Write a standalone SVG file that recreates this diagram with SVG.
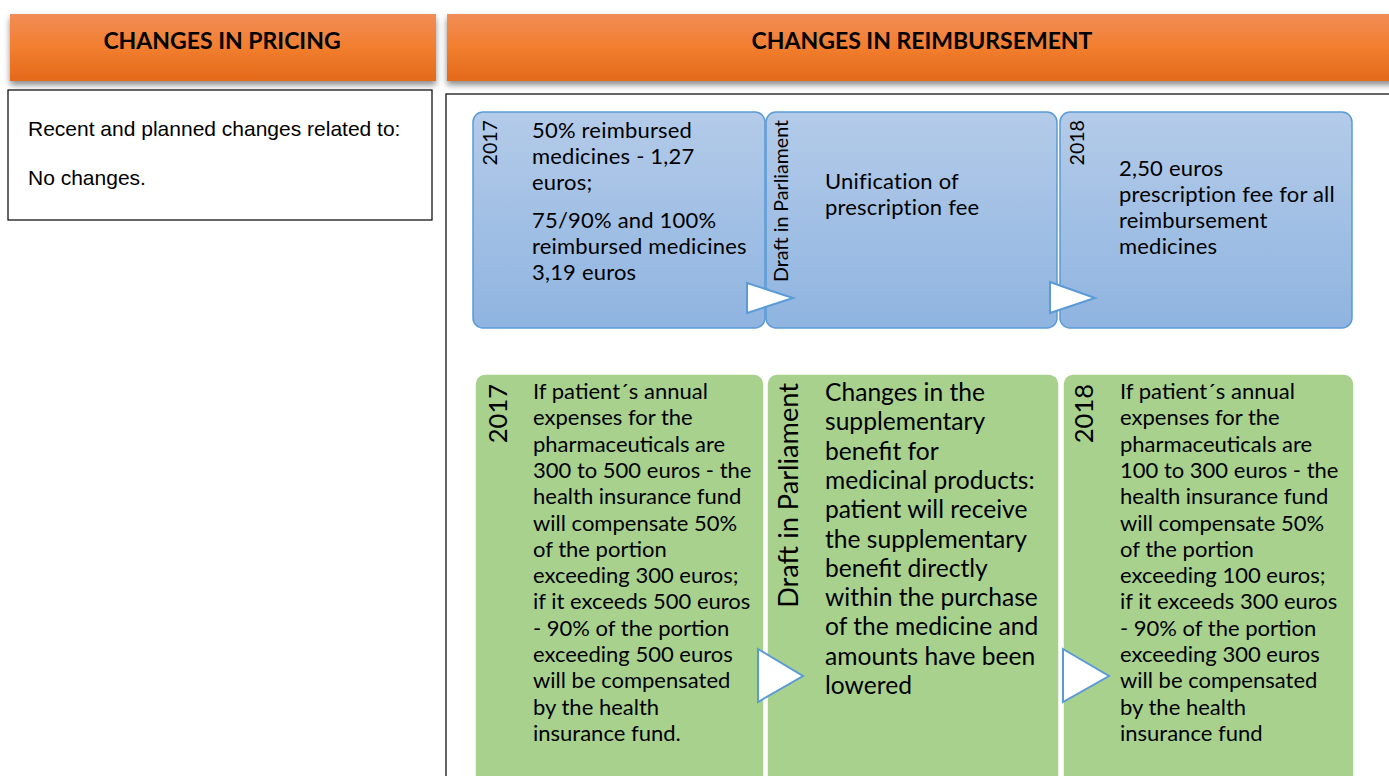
<svg xmlns="http://www.w3.org/2000/svg" width="1389" height="776" viewBox="0 0 1389 776">
<defs>
<linearGradient id="og" x1="0" y1="0" x2="0" y2="1">
<stop offset="0" stop-color="#f18d56"/>
<stop offset="0.5" stop-color="#f27e2f"/>
<stop offset="1" stop-color="#e3691b"/>
</linearGradient>
<linearGradient id="bg" x1="0" y1="0" x2="0" y2="1">
<stop offset="0" stop-color="#b4cbe9"/>
<stop offset="1" stop-color="#8fb4e0"/>
</linearGradient>
<filter id="sh" x="-5%" y="-20%" width="110%" height="160%">
<feDropShadow dx="0" dy="4" stdDeviation="3" flood-color="#000" flood-opacity="0.45"/>
</filter>
<style>
.hdr{font-family:Lato,"Open Sans",sans-serif;font-weight:bold;font-size:23px;fill:#000;text-anchor:middle}
.arial{font-family:"Liberation Sans",Arial,sans-serif;font-size:21px;fill:#000}
.bt{font-family:Lato,"Open Sans",sans-serif;font-size:22px;letter-spacing:0.2px;fill:#000}
.gt{font-family:Lato,"Open Sans",sans-serif;font-size:22px;fill:#000}
.gt2{font-family:Lato,"Open Sans",sans-serif;font-size:24.6px;fill:#000}
.vs{font-family:Lato,"Open Sans",sans-serif;font-size:19.6px;fill:#000;text-anchor:end}
.vl{font-family:Lato,"Open Sans",sans-serif;font-size:27.2px;fill:#000;text-anchor:end}
.vy{font-family:Lato,"Open Sans",sans-serif;font-size:25.5px;fill:#000;text-anchor:end}
.blue{fill:url(#bg);stroke:#5b9bd5;stroke-width:1.5}
.green{fill:#a9d18e;stroke:#ffffff;stroke-width:1.5}
.arr{fill:#ffffff;stroke:#5b9bd5;stroke-width:2;stroke-linejoin:miter}
.frame{fill:#ffffff;stroke:#000;stroke-width:1.2}
</style>
</defs>
<rect width="1389" height="776" fill="#ffffff"/>

<g id="header-pricing">
<rect x="10" y="14" width="426" height="67" fill="url(#og)" filter="url(#sh)"/>
<text class="hdr" x="222" y="49">CHANGES IN PRICING</text>
</g>
<g id="header-reimbursement">
<rect x="447" y="14" width="960" height="67" fill="url(#og)" filter="url(#sh)"/>
<text class="hdr" x="922" y="49">CHANGES IN REIMBURSEMENT</text>
</g>

<g id="pricing-box">
<rect class="frame" x="8" y="90" width="424" height="130"/>
<text class="arial" x="28" y="136">Recent and planned changes related to:</text>
<text class="arial" x="28" y="185">No changes.</text>
</g>

<g id="reimbursement-frame">
<rect class="frame" x="446" y="94" width="960" height="700"/>
</g>

<g id="blue-2017">
<rect class="blue" x="473" y="112" width="292" height="216" rx="10"/>
<text class="vs" transform="translate(497,120) rotate(-90)">2017</text>
<text class="bt"><tspan x="532" y="138">50% reimbursed</tspan><tspan x="532" y="164">medicines - 1,27</tspan><tspan x="532" y="190">euros;</tspan><tspan x="532" y="228">75/90% and 100%</tspan><tspan x="532" y="254">reimbursed medicines</tspan><tspan x="532" y="280">3,19 euros</tspan></text>
</g>
<g id="blue-draft">
<rect class="blue" x="766" y="112" width="291" height="216" rx="10"/>
<text class="vs" transform="translate(788,120) rotate(-90)">Draft in Parliament</text>
<text class="bt"><tspan x="825" y="189">Unification of</tspan><tspan x="825" y="215">prescription fee</tspan></text>
</g>
<g id="blue-2018">
<rect class="blue" x="1060" y="112" width="292" height="216" rx="10"/>
<text class="vs" transform="translate(1084,120) rotate(-90)">2018</text>
<text class="bt"><tspan x="1119" y="176">2,50 euros</tspan><tspan x="1119" y="202">prescription fee for all</tspan><tspan x="1119" y="228">reimbursement</tspan><tspan x="1119" y="254">medicines</tspan></text>
</g>

<g id="green-2017">
<rect class="green" x="475" y="374" width="289" height="440" rx="10"/>
<text class="vy" transform="translate(507,384) rotate(-90)">2017</text>
<text class="gt"><tspan x="533" y="399">If patient´s annual</tspan><tspan x="533" y="425.3">expenses for the</tspan><tspan x="533" y="451.6">pharmaceuticals are</tspan><tspan x="533" y="477.9">300 to 500 euros - the</tspan><tspan x="533" y="504.2">health insurance fund</tspan><tspan x="533" y="530.5">will compensate 50%</tspan><tspan x="533" y="556.8">of the portion</tspan><tspan x="533" y="583.1">exceeding 300 euros;</tspan><tspan x="533" y="609.4">if it exceeds 500 euros</tspan><tspan x="533" y="635.7">- 90% of the portion</tspan><tspan x="533" y="662">exceeding 500 euros</tspan><tspan x="533" y="688.3">will be compensated</tspan><tspan x="533" y="714.6">by the health</tspan><tspan x="533" y="740.9">insurance fund.</tspan></text>
</g>
<g id="green-draft">
<rect class="green" x="767" y="374" width="292" height="440" rx="10"/>
<text class="vl" transform="translate(798,383) rotate(-90)">Draft in Parliament</text>
<text class="gt2"><tspan x="825" y="401">Changes in the</tspan><tspan x="825" y="430.3">supplementary</tspan><tspan x="825" y="459.6">benefit for</tspan><tspan x="825" y="488.9">medicinal products:</tspan><tspan x="825" y="518.2">patient will receive</tspan><tspan x="825" y="547.5">the supplementary</tspan><tspan x="825" y="576.8">benefit directly</tspan><tspan x="825" y="606.1">within the purchase</tspan><tspan x="825" y="635.4">of the medicine and</tspan><tspan x="825" y="664.7">amounts have been</tspan><tspan x="825" y="694">lowered</tspan></text>
</g>
<g id="green-2018">
<rect class="green" x="1063" y="374" width="291" height="440" rx="10"/>
<text class="vy" transform="translate(1093,384) rotate(-90)">2018</text>
<text class="gt"><tspan x="1120" y="399">If patient´s annual</tspan><tspan x="1120" y="425.3">expenses for the</tspan><tspan x="1120" y="451.6">pharmaceuticals are</tspan><tspan x="1120" y="477.9">100 to 300 euros - the</tspan><tspan x="1120" y="504.2">health insurance fund</tspan><tspan x="1120" y="530.5">will compensate 50%</tspan><tspan x="1120" y="556.8">of the portion</tspan><tspan x="1120" y="583.1">exceeding 100 euros;</tspan><tspan x="1120" y="609.4">if it exceeds 300 euros</tspan><tspan x="1120" y="635.7">- 90% of the portion</tspan><tspan x="1120" y="662">exceeding 300 euros</tspan><tspan x="1120" y="688.3">will be compensated</tspan><tspan x="1120" y="714.6">by the health</tspan><tspan x="1120" y="740.9">insurance fund</tspan></text>
</g>

<g id="connectors">
<polygon class="arr" points="747,283 793,298 747,313"/>
<polygon class="arr" points="1050,282 1095,298 1050,313"/>
<polygon class="arr" points="758,649 803,676 758,702"/>
<polygon class="arr" points="1063,649 1109,676 1063,702"/>
</g>
</svg>
